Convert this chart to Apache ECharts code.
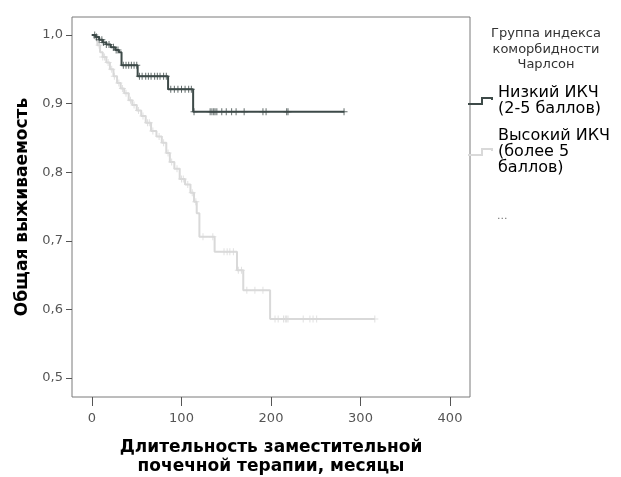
<!DOCTYPE html>
<html>
<head>
<meta charset="utf-8">
<script src="https://cdn.jsdelivr.net/npm/echarts@6/dist/echarts.min.js"></script>
<style>
html, body { margin: 0; padding: 0; background: #fff; }
#chart { width: 621px; height: 477px; }
</style>
</head>
<body>
<div id="chart"></div>
<script>
// survival steps: [month, survival]
const lowIkchSteps = [
  [0, 1.0], [4, 0.997], [8, 0.993], [12, 0.989], [16, 0.986], [21, 0.982],
  [26, 0.978], [30, 0.975], [33, 0.956], [51, 0.940], [85, 0.921],
  [113, 0.888], [282, 0.888]
];
const highIkchSteps = [
  [0, 1.0], [3, 0.995], [6, 0.985], [9, 0.975], [12, 0.968], [16, 0.960],
  [20, 0.950], [24, 0.940], [28, 0.930], [32, 0.922], [36, 0.915],
  [41, 0.905], [45, 0.898], [50, 0.890], [55, 0.882], [60, 0.872],
  [66, 0.860], [72, 0.852], [78, 0.843], [83, 0.828], [87, 0.815],
  [92, 0.805], [98, 0.790], [104, 0.782], [110, 0.770], [114, 0.757],
  [117, 0.740], [120, 0.706], [137, 0.684], [162, 0.657], [169, 0.628],
  [199, 0.586], [316, 0.586]
];
// censored times
const lowIkchCensored = [
  3, 5, 8, 11, 13, 16, 19, 24, 27, 29, 35, 38, 41, 44, 47, 50,
  53, 56, 60, 63, 66, 70, 73, 76, 80, 83, 88, 92, 96, 100, 104, 108, 111,
  114, 132, 134, 136, 137.5, 139.5, 145, 150, 156, 161, 170, 191, 194.5,
  217.5, 219, 281.6
];
const highIkchCensored = [
  5, 8, 12, 14, 18, 22, 25, 30, 34, 38, 43, 47, 52, 57, 62, 64, 68, 75,
  80, 85, 89, 95, 100, 102, 107, 112, 116, 124, 135, 147.5, 151, 154, 158,
  163.5, 167, 173, 182, 191, 204.5, 208, 214, 216, 217.5, 219, 236, 243.5,
  247, 251, 316
];
const xTicks = [0, 100, 200, 300, 400];
const yTicks = [0.5, 0.6, 0.7, 0.8, 0.9, 1.0];

const lowName = 'Низкий ИКЧ\n(2-5 баллов)';
const highName = 'Высокий ИКЧ\n(более 5\nбаллов)';
const darkColor = '#3d4a48';
const lightColor = '#d9d9d9';
const font = '"DejaVu Sans", "Liberation Sans", Arial, sans-serif';
const stepIcon = 'path://M0,6H13V0H25V3H23V2H15V8H0Z';
const plusMark = 'path://M3,0H4V7H3ZM0,3H7V4H0Z';

function survivalAt(steps, t) {
  let s = steps[0][1];
  for (const p of steps) {
    if (p[0] <= t) s = p[1];
  }
  return s;
}

const chart = echarts.init(document.getElementById('chart'));
chart.setOption({
  animation: false,
  textStyle: { fontFamily: font },
  grid: {
    left: 72, right: 151, top: 17, bottom: 80,
    outerBoundsMode: 'none', containLabel: false,
    show: true, borderColor: '#7a7a7a', borderWidth: 1
  },
  xAxis: {
    type: 'value', min: -22.35, max: 422.35,
    name: 'Длительность заместительной\nпочечной терапии, месяцы',
    nameLocation: 'middle', nameGap: 41,
    nameTextStyle: { fontSize: 17, fontWeight: 'bold', color: '#000', lineHeight: 19 },
    axisLine: { show: false, onZero: false },
    axisTick: { customValues: xTicks, length: 9, lineStyle: { color: '#555' } },
    axisLabel: { customValues: xTicks, margin: 15, fontSize: 13, color: '#555' },
    splitLine: { show: false }
  },
  yAxis: {
    type: 'value', min: 0.4723, max: 1.0262,
    name: 'Общая выживаемость',
    nameLocation: 'middle', nameGap: 41,
    nameTextStyle: { fontSize: 17, fontWeight: 'bold', color: '#000' },
    axisLine: { show: false, onZero: false },
    axisTick: { customValues: yTicks, length: 6, lineStyle: { color: '#555' } },
    axisLabel: {
      customValues: yTicks, margin: 9, fontSize: 13, color: '#555',
      formatter: v => v.toFixed(1).replace('.', ',')
    },
    splitLine: { show: false }
  },
  legend: {
    orient: 'vertical', left: 468, top: 85, padding: 0, itemGap: 11,
    itemWidth: 25, itemHeight: 8, itemStyle: { borderWidth: 0 },
    textStyle: { fontSize: 16, color: '#000', lineHeight: 16 },
    data: [
      { name: lowName, icon: stepIcon },
      { name: highName, icon: stepIcon }
    ]
  },
  graphic: [
    {
      type: 'text', x: 546, y: 26,
      style: {
        text: 'Группа индекса\nкоморбидности\nЧарлсон',
        align: 'center', font: '13px ' + font,
        fill: '#333', lineHeight: 15.5
      }
    },
    {
      type: 'text', x: 497, y: 211,
      style: { text: '...', font: '11px ' + font, fill: '#777' }
    }
  ],
  series: [
    {
      name: highName, type: 'line', step: 'end', showSymbol: false,
      data: highIkchSteps, color: lightColor,
      lineStyle: { width: 2, color: lightColor }, z: 2
    },
    {
      name: highName, type: 'scatter', symbol: plusMark, symbolSize: [7, 7],
      data: highIkchCensored.map(t => [t, survivalAt(highIkchSteps, t)]),
      itemStyle: { color: lightColor }, z: 2
    },
    {
      name: lowName, type: 'line', step: 'end', showSymbol: false,
      data: lowIkchSteps, color: darkColor,
      lineStyle: { width: 2, color: darkColor }, z: 3
    },
    {
      name: lowName, type: 'scatter', symbol: plusMark, symbolSize: [7, 7],
      data: lowIkchCensored.map(t => [t, survivalAt(lowIkchSteps, t)]),
      itemStyle: { color: darkColor }, z: 3
    }
  ]
});
</script>
</body>
</html>
